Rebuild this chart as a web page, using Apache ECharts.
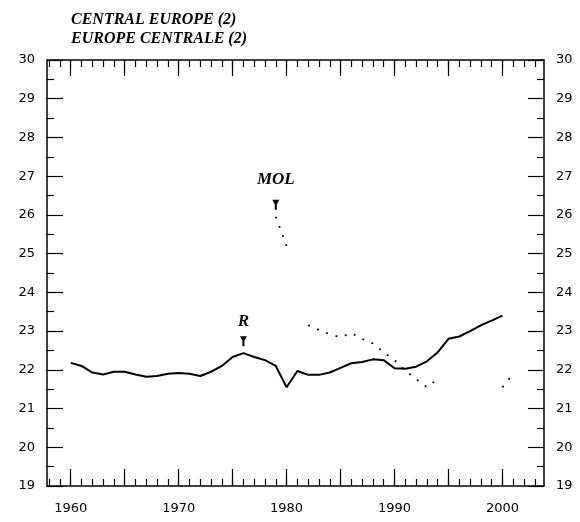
<!DOCTYPE html>
<html>
<head>
<meta charset="utf-8">
<script src="https://cdn.jsdelivr.net/npm/echarts@6/dist/echarts.min.js"></script>
<style>
html,body{margin:0;padding:0;background:#fff;}
#chart{width:580px;height:522px;}
</style>
</head>
<body>
<div id="chart"></div>
<script>
// ---- data ----
const titleLines = ['CENTRAL EUROPE (2)', 'EUROPE CENTRALE (2)'];
const rYears = [1960,1961,1962,1963,1964,1965,1966,1967,1968,1969,1970,1971,1972,1973,1974,1975,1976,1977,1978,1979,1980,1981,1982,1983,1984,1985,1986,1987,1988,1989,1990,1991,1992,1993,1994,1995,1996,1997,1998,1999,2000];
const rValues = [22.18,22.10,21.93,21.88,21.95,21.95,21.88,21.82,21.84,21.90,21.92,21.90,21.84,21.95,22.10,22.33,22.43,22.33,22.25,22.10,21.55,21.97,21.87,21.87,21.93,22.05,22.17,22.20,22.27,22.25,22.04,22.03,22.08,22.22,22.45,22.80,22.86,23.00,23.15,23.27,23.40];
const molYears = [1979,1980,1981,1982,1983,1984,1985,1986,1987,1988,1989,1990,1991,1992,1993,1994,1995,1996,1997,1998,1999,2000,2001];
const molValues = [25.95,25.20,null,23.15,23.03,22.92,22.84,22.95,22.80,22.68,22.45,22.25,21.98,21.76,21.55,21.76,null,null,null,null,null,21.55,21.90];
const xLabelYears = [1960,1970,1980,1990,2000];
const xMajorTicks = [1960,1965,1970,1975,1980,1985,1990,1995,2000];
const xMinorTicks = [1958,1959,1960,1961,1962,1963,1964,1965,1966,1967,1968,1969,1970,1971,1972,1973,1974,1975,1976,1977,1978,1979,1980,1981,1982,1983,1984,1985,1986,1987,1988,1989,1990,1991,1992,1993,1994,1995,1996,1997,1998,1999,2000,2001,2002,2003];
const yMin = 19, yMax = 30;
const xMin = 1957.8, xMax = 2003.85;
const rLabel = {text: 'R', year: 1976, value: 22.43};
const molLabel = {text: 'MOL', year: 1979, value: 25.95};

// ---- chart ----
const chart = echarts.init(document.getElementById('chart'), null, {renderer: 'canvas'});
const black = '#000';
const labelFont = {color: black, fontFamily: 'DejaVu Sans', fontSize: 13};
const serifBI = {fontFamily: 'Liberation Serif', fontStyle: 'italic', fontWeight: 'bold', color: black};
const arrowPath = 'path://M0,0 L10,0 L6.5,6 L6.5,14 L3.5,14 L3.5,6 Z';
const plain = v => String(Math.round(v));

function xAxisDef(position, ticks, len, withLine, labels) {
  return {
    type: 'value', min: xMin, max: xMax, position: position, gridIndex: 0,
    axisLine: {show: withLine, onZero: false, lineStyle: {color: black, width: 1.5}},
    axisTick: {show: true, inside: true, length: len, customValues: ticks, lineStyle: {color: black, width: 1.2}},
    axisLabel: labels ? Object.assign({show: true, customValues: labels, margin: 16, formatter: plain}, labelFont) : {show: false},
    splitLine: {show: false}
  };
}
function yAxisDef(position) {
  return {
    type: 'value', min: yMin, max: yMax, interval: 1, position: position,
    axisLine: {show: true, onZero: false, lineStyle: {color: black, width: 1.5}},
    axisTick: {show: true, inside: true, length: 16, lineStyle: {color: black, width: 1.2}},
    minorTick: {show: true, splitNumber: 2, length: 7, lineStyle: {color: black, width: 1.2}},
    axisLabel: Object.assign({show: true, margin: 12, formatter: plain}, labelFont),
    splitLine: {show: false}, minorSplitLine: {show: false}
  };
}

const option = {
  animation: false,
  backgroundColor: '#fff',
  title: {
    text: titleLines.join('\n'),
    left: 66, top: 5,
    textStyle: Object.assign({fontSize: 16, lineHeight: 19}, serifBI)
  },
  grid: {left: 47, right: 36, top: 60, bottom: 36},
  xAxis: [
    xAxisDef('bottom', xMajorTicks, 17, true, xLabelYears),
    xAxisDef('bottom', xMinorTicks, 7, false, null),
    xAxisDef('top', xMajorTicks, 16, true, null),
    xAxisDef('top', xMinorTicks, 7, false, null)
  ],
  yAxis: [yAxisDef('left'), yAxisDef('right')],
  series: [
    {
      name: 'R', type: 'line', xAxisIndex: 0, yAxisIndex: 0,
      data: rYears.map((y, i) => [y, rValues[i]]),
      symbol: 'none', lineStyle: {color: black, width: 2},
      markPoint: {
        symbol: arrowPath, symbolSize: [7, 10], symbolOffset: [0, -12],
        itemStyle: {color: black},
        label: Object.assign({show: true, position: 'top', distance: 6, fontSize: 17, formatter: rLabel.text}, serifBI),
        data: [{coord: [rLabel.year, rLabel.value]}]
      }
    },
    {
      name: 'MOL', type: 'line', xAxisIndex: 0, yAxisIndex: 0,
      data: molYears.map((y, i) => [y, molValues[i]]),
      connectNulls: false,
      symbol: 'none', lineStyle: {color: black, width: 1.8, type: [1.8, 8]},
      markPoint: {
        symbol: arrowPath, symbolSize: [7, 10], symbolOffset: [0, -12],
        itemStyle: {color: black},
        label: Object.assign({show: true, position: 'top', distance: 12, fontSize: 17, formatter: molLabel.text}, serifBI),
        data: [{coord: [molLabel.year, molLabel.value]}]
      }
    }
  ]
};
chart.setOption(option);
</script>
</body>
</html>
